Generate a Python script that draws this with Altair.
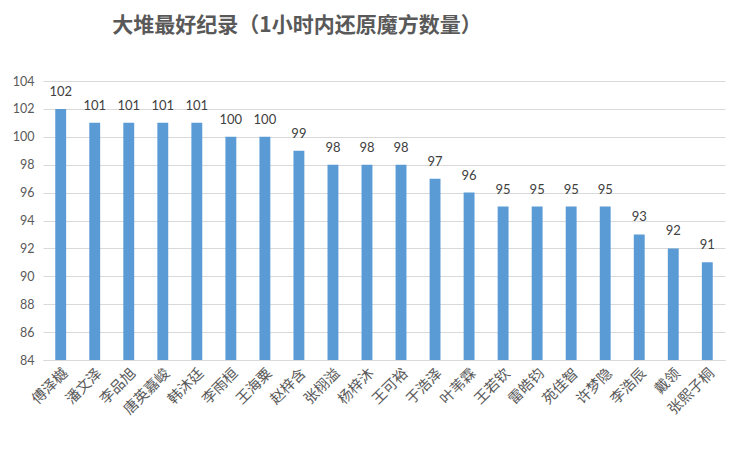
import pandas as pd
import altair as alt

names = ['傅泽樾', '潘文泽', '李品旭', '唐英嘉峻', '韩沐廷', '李雨桓', '王海粟', '赵梓含',
         '张栩溢', '杨梓沐', '王可裕', '于浩泽', '叶苇霖', '王若钦', '雷皓钧', '苑佳智',
         '许梦隐', '李浩辰', '戴领', '张熙子桐']
counts = [102, 101, 101, 101, 101, 100, 100, 99, 98, 98, 98, 97, 96, 95, 95, 95, 95, 93, 92, 91]
y_ticks = list(range(84, 105, 2))

df = pd.DataFrame({'name': names, 'count': counts})

base = alt.Chart(df).encode(
    x=alt.X('name:N', sort=names, title=None,
            scale=alt.Scale(paddingInner=0.68, paddingOuter=0.36),
            axis=alt.Axis(labelAngle=-45, labelFont='Noto Sans CJK SC', labelFontSize=14.5,
                          labelColor='#595959', ticks=False, domainColor='#d9d9d9',
                          labelPadding=6)),
    y=alt.Y('count:Q', title=None,
            scale=alt.Scale(domain=[84, 104], zero=False, nice=False),
            axis=alt.Axis(values=y_ticks, labelFont='Lato', labelFontSize=12.5,
                          labelColor='#595959', ticks=False, domain=False,
                          gridColor='#d9d9d9', labelPadding=9))
)

bars = base.mark_bar(color='#5B9BD5', clip=True)
labels = base.mark_text(dy=-17, font='Lato', fontSize=13, color='#404040').encode(text='count:Q')

chart = (bars + labels).properties(
    width=682, height=279,
    autosize=alt.AutoSizeParams(type='none'),
    padding={'left': 35, 'top': 73, 'right': 17, 'bottom': 81},
    title=alt.TitleParams('大堆最好纪录（1小时内还原魔方数量）', anchor='start', dx=100,
                          offset=39, font='Noto Sans CJK SC', fontSize=21,
                          fontWeight='bold', color='#595959')
).configure_view(stroke=None)

chart.save("out.html", embed_options={"renderer": "svg", "actions": False})
